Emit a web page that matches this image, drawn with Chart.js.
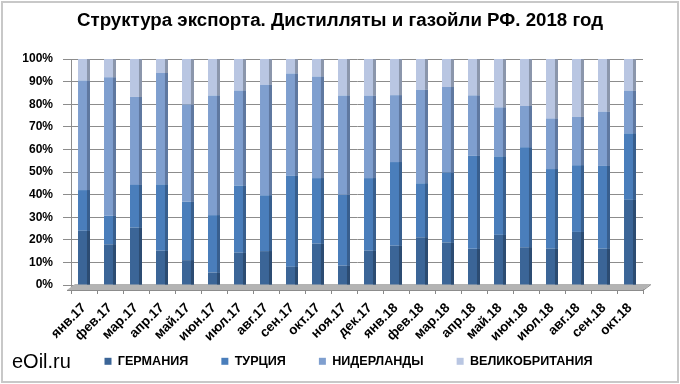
<!DOCTYPE html>
<html>
<head>
<meta charset="utf-8">
<script src="https://cdn.jsdelivr.net/npm/chart.js@4/dist/chart.umd.min.js"></script>
<style>
html,body{margin:0;padding:0;background:#fff;}
#wrap{position:relative;width:680px;height:384px;}
#frame{position:absolute;left:1px;top:1px;width:674px;height:378px;border:2px solid #c8c8c8;pointer-events:none;}
</style>
</head>
<body>
<div id="wrap">
<canvas id="c" width="680" height="384"></canvas>
<div id="frame"></div>
</div>
<script>
const categories = ["янв.17","фев.17","мар.17","апр.17","май.17","июн.17","июл.17","авг.17","сен.17","окт.17","ноя.17","дек.17","янв.18","фев.18","мар.18","апр.18","май.18","июн.18","июл.18","авг.18","сен.18","окт.18"];
const germany     = [24.0,18.0,25.4,15.2,11.0, 5.5,14.3,15.0, 8.1,18.3, 8.6,15.2,17.4,21.1,18.8,16.0,22.2,16.7,16.1,23.5,16.1,37.7];
const turkey      = [18.0,12.6,18.9,29.3,25.8,25.4,29.7,24.7,40.2,29.0,31.3,32.1,37.0,23.9,31.0,41.2,34.7,44.2,35.2,29.5,36.6,29.4];
const netherlands = [48.5,61.3,38.9,49.3,43.1,53.0,42.1,48.9,45.3,45.0,44.0,36.5,29.6,41.4,37.8,26.7,21.7,18.3,22.4,21.4,24.0,18.9];
const britain     = [ 9.5, 8.1,16.8, 6.2,20.1,16.1,13.9,11.4, 6.4, 7.7,16.1,16.2,16.0,13.6,12.4,16.1,21.4,20.8,26.3,25.6,23.3,14.0];
const yTicks = [0,10,20,30,40,50,60,70,80,90,100];
const seriesNames = ["ГЕРМАНИЯ","ТУРЦИЯ","НИДЕРЛАНДЫ","ВЕЛИКОБРИТАНИЯ"];
const titleText = 'Структура экспорта. Дистилляты и газойли РФ. 2018 год';
const colors = ["#3b6597","#4a7ebb","#7f9fcf","#b9c6e2"];
const edgeColors = ["#2c4c72","#385f8e","#5f78a0","#8b96ab"];

const decorPlugin = {
  id:'decor',
  beforeDatasetsDraw(chart){
    const {ctx, chartArea:a} = chart;
    ctx.save();
    ctx.fillStyle = '#b3b3b3';
    ctx.beginPath();
    ctx.moveTo(a.left-4, a.bottom+5);
    ctx.lineTo(a.left+4, a.bottom-1);
    ctx.lineTo(a.right+8, a.bottom-1);
    ctx.lineTo(a.right, a.bottom+5);
    ctx.closePath();
    ctx.fill();
    ctx.strokeStyle = '#8c8c8c';
    ctx.lineWidth = 1;
    ctx.beginPath();
    ctx.moveTo(a.left-4, a.bottom+5.5);
    ctx.lineTo(a.right, a.bottom+5.5);
    ctx.lineTo(a.right+8, a.bottom-0.5);
    ctx.stroke();
    ctx.restore();
  },
  afterDatasetsDraw(chart){
    const ctx = chart.ctx;
    ctx.save();
    chart.data.datasets.forEach((ds,i)=>{
      const meta = chart.getDatasetMeta(i);
      meta.data.forEach(el=>{
        const top = Math.min(el.y, el.base), bot = Math.max(el.y, el.base);
        ctx.fillStyle = edgeColors[i];
        ctx.fillRect(el.x + el.width/2 - 3, top, 3, bot-top);
      });
    });
    ctx.restore();
  },
  afterDraw(chart){
    const ctx = chart.ctx;
    ctx.save();
    ctx.fillStyle = '#000';
    ctx.textBaseline = 'middle';
    ctx.textAlign = 'center';
    ctx.font = 'bold 18.7px "Liberation Sans", Arial, sans-serif';
    ctx.fillText(titleText, 340, 21);
    ctx.textAlign = 'left';
    ctx.font = '20px "Liberation Sans", Arial, sans-serif';
    ctx.fillText('eOil.ru', 12, 362);
    ctx.restore();
  }
};

const datasets = [germany, turkey, netherlands, britain].map((d,i)=>({
  label: seriesNames[i],
  data: d,
  backgroundColor: colors[i],
  borderWidth: 0,
  barPercentage: 0.46,
  categoryPercentage: 1.0
}));

new Chart(document.getElementById('c'), {
  type: 'bar',
  data: { labels: categories, datasets },
  options: {
    responsive: false,
    animation: false,
    layout: { padding: { left: 17, right: 0, top: 59, bottom: 12 } },
    plugins: {
      title: { display: false },
      legend: {
        position: 'bottom',
        maxHeight: 50,
        labels: {
          color: '#000',
          boxWidth: 7, boxHeight: 7,
          padding: 33,
          font: { family: '"Liberation Sans", Arial, sans-serif', size: 12.6, weight: 'bold' }
        }
      },
      tooltip: { enabled: false }
    },
    scales: {
      x: {
        stacked: true,
        afterFit(s){ s.height = 37; s._computeLabelArea = function(){ return undefined; }; },
        grid: { display: true, drawOnChartArea: false, offset: true, color: '#888', tickLength: 9 },
        border: { display: false },
        ticks: {
          color: '#000', maxRotation: 45, minRotation: 45, autoSkip: false, padding: 6,
          font: { family: '"Liberation Sans", Arial, sans-serif', size: 13.5, weight: 'bold' }
        }
      },
      y: {
        stacked: true,
        min: 0, max: 100,
        afterBuildTicks(s){ s.ticks = yTicks.map(v=>({value:v})); },
        afterFit(s){ s.width = 54; },
        grid: { color: '#8c8c8c', lineWidth: 1, tickLength: 8 },
        border: { display: true, color: '#8c8c8c' },
        ticks: {
          color: '#000', padding: 10,
          callback: v => v + '%',
          font: { family: '"Liberation Sans", Arial, sans-serif', size: 12, weight: 'bold' }
        }
      },
      yr: {
        position: 'right',
        min: 0, max: 100,
        afterFit(s){ s.width = 37; },
        grid: { display: false },
        border: { display: false },
        ticks: { display: false }
      }
    }
  },
  plugins: [decorPlugin]
});
</script>
</body>
</html>
